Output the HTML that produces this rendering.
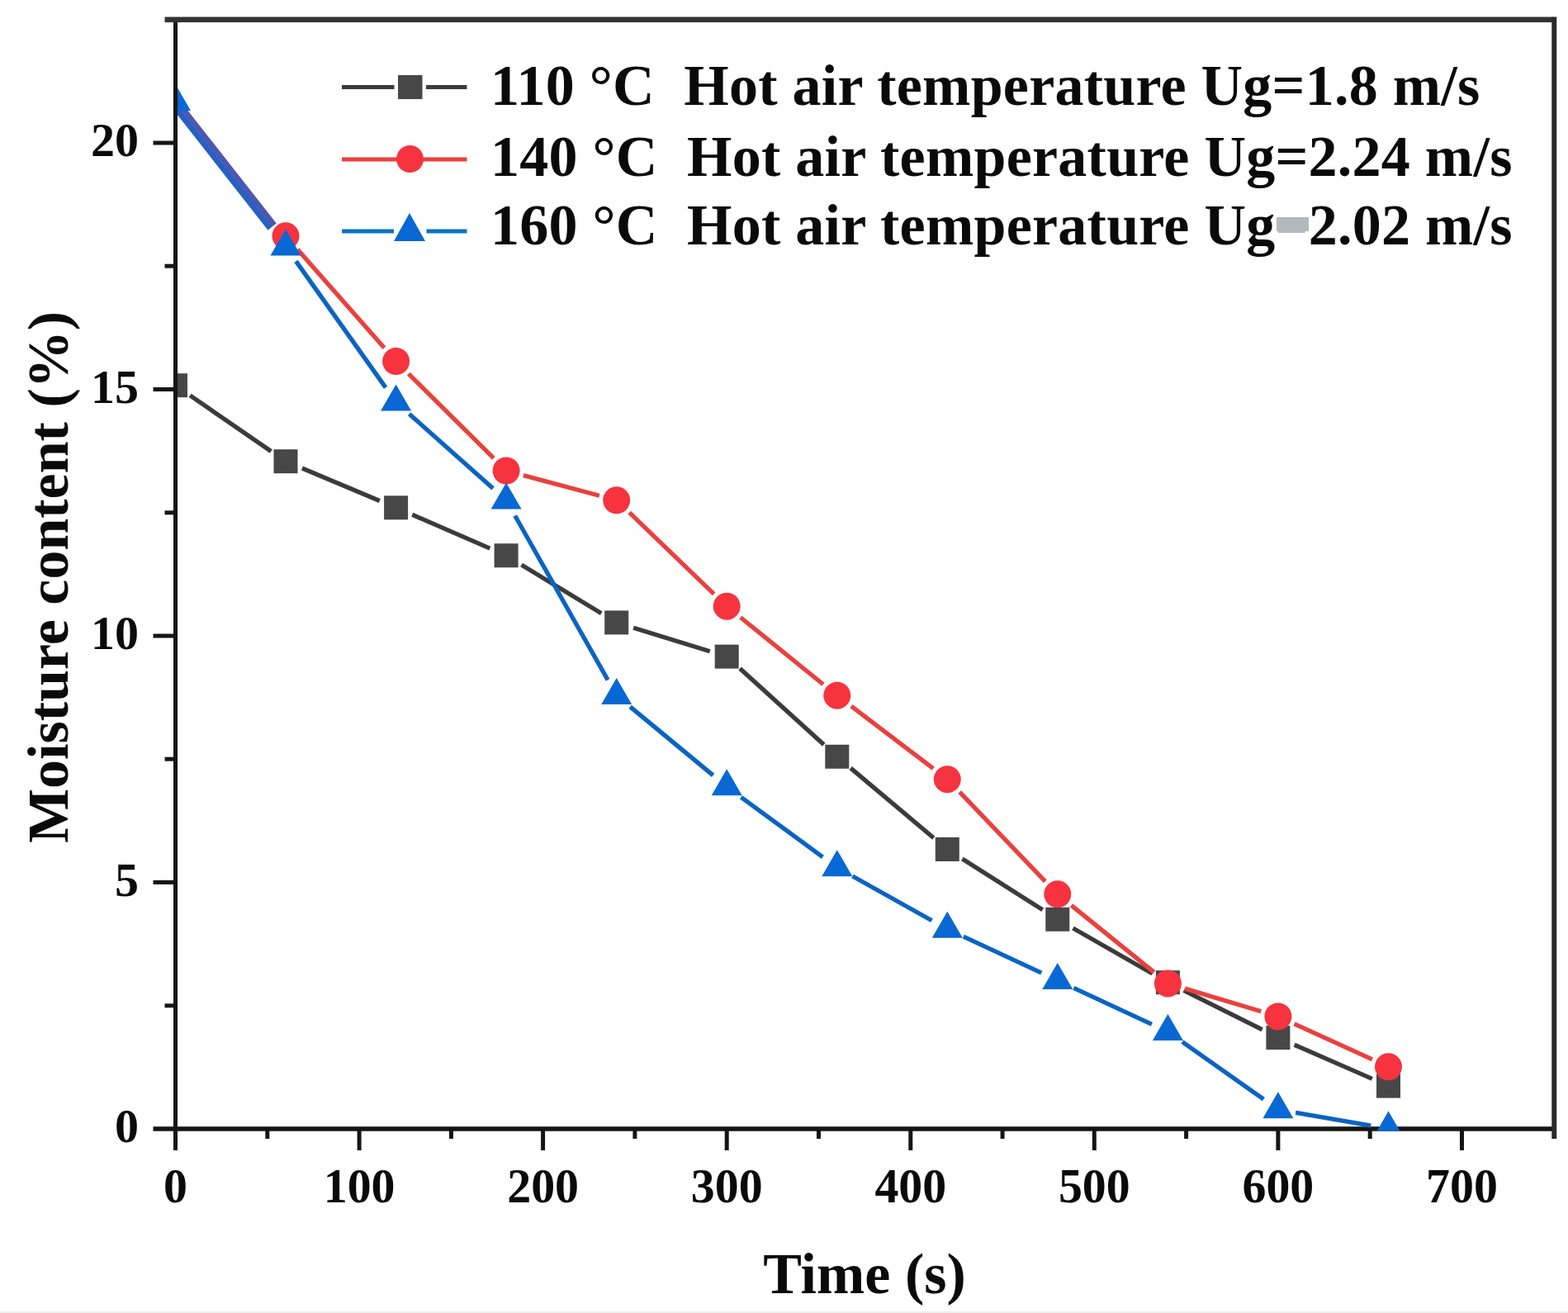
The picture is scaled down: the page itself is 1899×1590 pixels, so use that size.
<!DOCTYPE html>
<html><head><meta charset="utf-8"><style>
html,body{margin:0;padding:0;background:#fff;}
body{width:1899px;height:1590px;overflow:hidden;position:relative;}
svg{position:absolute;left:0;top:0;filter:blur(0.6px);}
text{font-family:"Liberation Serif","Times New Roman",serif;font-weight:bold;fill:#0a0a0a;}
.strip{position:absolute;left:0;top:1588px;width:1899px;height:2px;background:#eeeeeb;}
</style></head><body>
<svg width="1899" height="1590" viewBox="0 0 1899 1590">
<defs><clipPath id="pc"><rect x="215.0" y="26.75" width="1663.7749999999999" height="1342.75"/></clipPath></defs>
<line x1="212.5" y1="21.25" x2="212.5" y2="1393.0" stroke="#151515" stroke-width="5"/><line x1="185.5" y1="1367.0" x2="1884.2749999999999" y2="1367.0" stroke="#151515" stroke-width="5.5"/><line x1="199.5" y1="23.75" x2="1884.7749999999999" y2="23.75" stroke="#333" stroke-width="6.5"/><line x1="1882.2749999999999" y1="20.75" x2="1882.2749999999999" y2="1379.0" stroke="#2b292c" stroke-width="6"/><line x1="323.8" y1="1367.0" x2="323.8" y2="1379.0" stroke="#151515" stroke-width="5"/><line x1="435.1" y1="1367.0" x2="435.1" y2="1393.0" stroke="#151515" stroke-width="5"/><line x1="546.4" y1="1367.0" x2="546.4" y2="1379.0" stroke="#151515" stroke-width="5"/><line x1="657.6" y1="1367.0" x2="657.6" y2="1393.0" stroke="#151515" stroke-width="5"/><line x1="768.9" y1="1367.0" x2="768.9" y2="1379.0" stroke="#151515" stroke-width="5"/><line x1="880.2" y1="1367.0" x2="880.2" y2="1393.0" stroke="#151515" stroke-width="5"/><line x1="991.5" y1="1367.0" x2="991.5" y2="1379.0" stroke="#151515" stroke-width="5"/><line x1="1102.8" y1="1367.0" x2="1102.8" y2="1393.0" stroke="#151515" stroke-width="5"/><line x1="1214.1" y1="1367.0" x2="1214.1" y2="1379.0" stroke="#151515" stroke-width="5"/><line x1="1325.3" y1="1367.0" x2="1325.3" y2="1393.0" stroke="#151515" stroke-width="5"/><line x1="1436.6" y1="1367.0" x2="1436.6" y2="1379.0" stroke="#151515" stroke-width="5"/><line x1="1547.9" y1="1367.0" x2="1547.9" y2="1393.0" stroke="#151515" stroke-width="5"/><line x1="1659.2" y1="1367.0" x2="1659.2" y2="1379.0" stroke="#151515" stroke-width="5"/><line x1="1770.5" y1="1367.0" x2="1770.5" y2="1393.0" stroke="#151515" stroke-width="5"/><line x1="199.5" y1="1217.8" x2="212.5" y2="1217.8" stroke="#151515" stroke-width="5"/><line x1="185.5" y1="1068.5" x2="212.5" y2="1068.5" stroke="#151515" stroke-width="5"/><line x1="199.5" y1="919.2" x2="212.5" y2="919.2" stroke="#151515" stroke-width="5"/><line x1="185.5" y1="770.0" x2="212.5" y2="770.0" stroke="#151515" stroke-width="5"/><line x1="199.5" y1="620.8" x2="212.5" y2="620.8" stroke="#151515" stroke-width="5"/><line x1="185.5" y1="471.5" x2="212.5" y2="471.5" stroke="#151515" stroke-width="5"/><line x1="199.5" y1="322.2" x2="212.5" y2="322.2" stroke="#151515" stroke-width="5"/><line x1="185.5" y1="173.0" x2="212.5" y2="173.0" stroke="#151515" stroke-width="5"/>
<g clip-path="url(#pc)">
<g stroke="#3b3b3b" stroke-width="5.3" stroke-linecap="butt"><line x1="230.2" y1="478.9" x2="328.3" y2="546.5"/><line x1="365.9" y1="567.0" x2="459.8" y2="606.5"/><line x1="499.3" y1="623.3" x2="593.4" y2="664.1"/><line x1="631.5" y1="683.9" x2="728.3" y2="742.7"/><line x1="767.2" y1="760.2" x2="859.7" y2="788.7"/><line x1="896.1" y1="809.5" x2="997.8" y2="901.8"/><line x1="1030.2" y1="930.1" x2="1130.8" y2="1014.7"/><line x1="1165.4" y1="1040.0" x2="1262.7" y2="1101.8"/><line x1="1299.5" y1="1124.0" x2="1395.7" y2="1179.0"/><line x1="1433.6" y1="1199.3" x2="1528.7" y2="1246.9"/><line x1="1567.6" y1="1265.2" x2="1661.8" y2="1306.4"/></g>
<g fill="#474747"><rect x="198.0" y="452.2" width="29" height="29"/><rect x="331.5" y="544.2" width="29" height="29"/><rect x="465.1" y="600.3" width="29" height="29"/><rect x="598.6" y="658.2" width="29" height="29"/><rect x="732.2" y="739.4" width="29" height="29"/><rect x="865.7" y="780.6" width="29" height="29"/><rect x="999.3" y="901.8" width="29" height="29"/><rect x="1132.8" y="1014.0" width="29" height="29"/><rect x="1266.3" y="1098.8" width="29" height="29"/><rect x="1399.9" y="1175.2" width="29" height="29"/><rect x="1533.4" y="1242.1" width="29" height="29"/><rect x="1667.0" y="1300.6" width="29" height="29"/></g>
<g stroke="#e9413f" stroke-width="5.3" stroke-linecap="butt"><line x1="360.3" y1="302.0" x2="465.4" y2="421.3"/><line x1="494.8" y1="452.6" x2="597.9" y2="554.9"/><line x1="633.9" y1="575.6" x2="725.9" y2="600.3"/><line x1="762.2" y1="620.7" x2="864.7" y2="719.3"/><line x1="896.9" y1="747.7" x2="997.0" y2="828.7"/><line x1="1030.9" y1="855.2" x2="1130.2" y2="930.7"/><line x1="1162.2" y1="959.2" x2="1265.9" y2="1067.3"/><line x1="1297.5" y1="1096.4" x2="1397.7" y2="1177.4"/><line x1="1435.0" y1="1197.1" x2="1527.3" y2="1224.7"/><line x1="1567.5" y1="1239.8" x2="1661.9" y2="1282.9"/></g>
<line x1="210.1" y1="117.0" x2="332.2" y2="272.5" stroke="#4f56b0" stroke-width="6.5"/>
<g fill="#f6333e"><circle cx="346.0" cy="285.8" r="16.5"/><circle cx="479.6" cy="437.5" r="16.5"/><circle cx="613.1" cy="570.0" r="16.5"/><circle cx="746.7" cy="605.8" r="16.5"/><circle cx="880.2" cy="734.2" r="16.5"/><circle cx="1013.8" cy="842.2" r="16.5"/><circle cx="1147.3" cy="943.7" r="16.5"/><circle cx="1280.8" cy="1082.8" r="16.5"/><circle cx="1414.4" cy="1190.9" r="16.5"/><circle cx="1547.9" cy="1230.9" r="16.5"/><circle cx="1681.5" cy="1291.8" r="16.5"/></g>
<g stroke="#0a64c4" stroke-width="5.3" stroke-linecap="butt"><line x1="358.5" y1="316.4" x2="467.1" y2="469.4"/><line x1="495.6" y1="501.2" x2="597.1" y2="591.5"/><line x1="623.7" y1="624.5" x2="736.1" y2="823.4"/><line x1="763.2" y1="855.9" x2="863.6" y2="938.9"/><line x1="897.5" y1="965.3" x2="996.4" y2="1037.8"/><line x1="1032.5" y1="1061.0" x2="1128.5" y2="1114.7"/><line x1="1166.8" y1="1134.2" x2="1261.3" y2="1178.2"/><line x1="1300.3" y1="1196.3" x2="1394.9" y2="1240.3"/><line x1="1431.9" y1="1261.7" x2="1530.4" y2="1331.2"/><line x1="1569.1" y1="1347.3" x2="1660.3" y2="1363.2"/></g>
<line x1="205.0" y1="120.9" x2="327.2" y2="276.5" stroke="#2760c2" stroke-width="7"/>
<g fill="#0868d4"><path d="M212.5 102.1L231.0 134.1L194.0 134.1Z"/><path d="M346.0 277.6L364.5 309.6L327.5 309.6Z"/><path d="M479.6 465.6L498.1 497.6L461.1 497.6Z"/><path d="M613.1 584.5L631.6 616.5L594.6 616.5Z"/><path d="M746.7 820.9L765.2 852.9L728.2 852.9Z"/><path d="M880.2 931.3L898.7 963.3L861.7 963.3Z"/><path d="M1013.8 1029.2L1032.3 1061.2L995.3 1061.2Z"/><path d="M1147.3 1103.8L1165.8 1135.8L1128.8 1135.8Z"/><path d="M1280.8 1165.9L1299.3 1197.9L1262.3 1197.9Z"/><path d="M1414.4 1228.0L1432.9 1260.0L1395.9 1260.0Z"/><path d="M1547.9 1322.3L1566.4 1354.3L1529.4 1354.3Z"/><path d="M1681.5 1345.6L1700.0 1377.6L1663.0 1377.6Z"/></g>
</g>
<g font-size="58"><text transform="translate(212.5 1456) scale(0.965 1)" font-size="60" text-anchor="middle">0</text><text transform="translate(435.1 1456) scale(0.965 1)" font-size="60" text-anchor="middle">100</text><text transform="translate(657.6 1456) scale(0.965 1)" font-size="60" text-anchor="middle">200</text><text transform="translate(880.2 1456) scale(0.965 1)" font-size="60" text-anchor="middle">300</text><text transform="translate(1102.8 1456) scale(0.965 1)" font-size="60" text-anchor="middle">400</text><text transform="translate(1325.3 1456) scale(0.965 1)" font-size="60" text-anchor="middle">500</text><text transform="translate(1547.9 1456) scale(0.965 1)" font-size="60" text-anchor="middle">600</text><text transform="translate(1770.5 1456) scale(0.965 1)" font-size="60" text-anchor="middle">700</text><text x="168" y="1383.0" text-anchor="end">0</text><text x="168" y="1084.5" text-anchor="end">5</text><text x="168" y="786.0" text-anchor="end">10</text><text x="168" y="487.5" text-anchor="end">15</text><text x="168" y="189.0" text-anchor="end">20</text></g>
<!-- legend -->
<g stroke-width="5">
<line x1="414" y1="105.5" x2="477.5" y2="105.5" stroke="#3b3b3b"/><line x1="516" y1="105.5" x2="565.5" y2="105.5" stroke="#3b3b3b"/>
<rect x="482" y="91" width="29.5" height="29" fill="#474747" stroke="none"/>
<line x1="414" y1="193" x2="565.5" y2="193" stroke="#e9413f"/>
<circle cx="496.5" cy="192.5" r="16.5" fill="#f6333e" stroke="none"/>
<line x1="414" y1="280" x2="477" y2="280" stroke="#0b74c2"/><line x1="516.5" y1="280" x2="565.5" y2="280" stroke="#0b74c2"/>
<path d="M496 258L515 292L477 292Z" fill="#0868d4" stroke="none"/>
</g>
<rect x="1546" y="263" width="39" height="17" fill="#b4b8bc"/>
<g font-size="70" letter-spacing="0.25">
<text x="594" y="127">110 °C&#160; Hot air temperature Ug=1.8 m/s</text>
<text x="594" y="212.5">140 °C&#160; Hot air temperature Ug=2.24 m/s</text>
<text x="594" y="296">160 °C&#160; Hot air temperature Ug<tspan fill="#b4b8bc">=</tspan>2.02 m/s</text>
</g>
<text font-size="70" x="1047" y="1566" text-anchor="middle">Time (s)</text>
<text font-size="70" transform="translate(82 699) rotate(-90)" text-anchor="middle">Moisture content (%)</text>
</svg>
<div class="strip"></div>
</body></html>
